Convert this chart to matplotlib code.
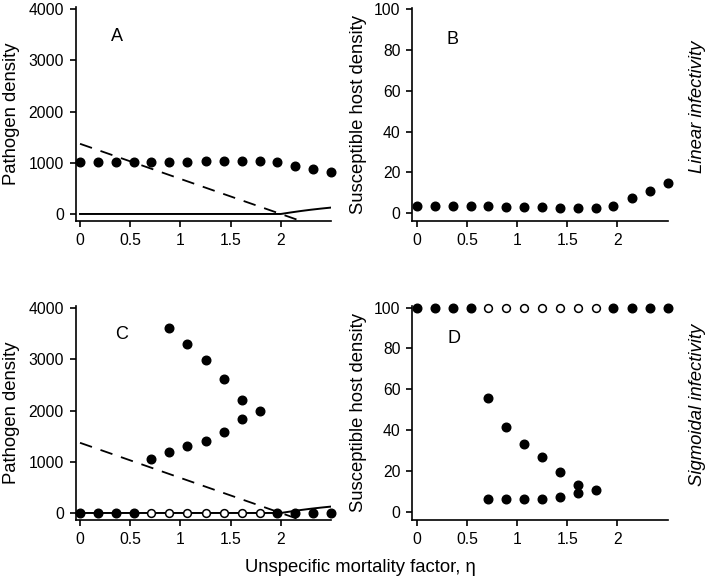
import matplotlib
matplotlib.use("Agg")
import matplotlib.pyplot as plt

plt.rcParams['font.family'] = ['Liberation Sans', 'DejaVu Sans']

# mortality factor grid
eta = [0, 0.18, 0.36, 0.54, 0.71, 0.89, 1.07, 1.25, 1.43, 1.61, 1.79, 1.96, 2.14, 2.32, 2.5]

# linear infectivity
path_lin = [1015, 1015, 1020, 1015, 1020, 1020, 1020, 1025, 1025, 1030, 1030, 1010, 945, 880, 815]
host_lin = [3.7, 3.6, 3.5, 3.4, 3.3, 3.1, 3.0, 2.9, 2.8, 2.6, 2.5, 3.6, 7.3, 10.9, 14.6]

# sigmoidal infectivity: trivial state (filled = stable, open = unstable)
stable_idx = [0, 1, 2, 3, 11, 12, 13, 14]
unstable_idx = [4, 5, 6, 7, 8, 9, 10]
path_triv = 0
host_triv = 100

# sigmoidal infectivity: non-trivial branches
eta_path_hi = [0.89, 1.07, 1.25, 1.43, 1.61, 1.79]
path_hi = [3620, 3300, 2980, 2610, 2210, 2000]
eta_path_lo = [0.71, 0.89, 1.07, 1.25, 1.43, 1.61]
path_lo = [1050, 1200, 1305, 1410, 1590, 1840]
eta_host_hi = [0.71, 0.89, 1.07, 1.25, 1.43, 1.61]
host_hi = [56, 41.8, 33.3, 27, 19.7, 13.5]
eta_host_lo = [0.71, 0.89, 1.07, 1.25, 1.43, 1.61, 1.79]
host_lo = [6.3, 6.3, 6.3, 6.7, 7.5, 9.3, 11]

# threshold curves in pathogen panels
eta_dash = [0, 2.2]
dash_y = [1370, -137]
eta_solid = [0, 2.0, 2.1, 2.2, 2.3, 2.4, 2.5]
solid_y = [0, 0, 30, 58, 83, 105, 125]

W, H = 713, 584
fig = plt.figure(figsize=(W / 100, H / 100), dpi=100)


def axes_px(left, top, right, bottom):
    return fig.add_axes([left / W, 1 - bottom / H, (right - left) / W, (bottom - top) / H])


axA = axes_px(75.7, 7, 331, 221)
axB = axes_px(412.3, 7.9, 667.7, 221)
axC = axes_px(75.7, 306, 331, 520)
axD = axes_px(412.3, 306.5, 667.7, 520)

dot = dict(marker='o', ms=6.2, color='black', ls='none', clip_on=False, zorder=3)
opn = dict(marker='o', ms=5.6, mfc='white', mec='black', mew=1.1, ls='none', clip_on=False, zorder=3)

for ax in (axA, axB, axC, axD):
    ax.set_xlim(-0.043, 2.5)
    ax.spines['top'].set_visible(False)
    ax.spines['right'].set_visible(False)
    for s in ('left', 'bottom'):
        ax.spines[s].set_linewidth(1.2)
    ax.set_xticks([0, 0.5, 1, 1.5, 2])
    ax.set_xticklabels(['0', '0.5', '1', '1.5', '2'])
    ax.tick_params(length=4, width=1.2, labelsize=11.3, pad=4.5)

for ax in (axA, axC):
    ax.set_ylim(-137, 4040)
    ax.set_yticks([0, 1000, 2000, 3000, 4000])
    ax.plot(eta_dash, dash_y, color='black', lw=1.3, dashes=(7, 5))
    ax.plot(eta_solid, solid_y, color='black', lw=1.4)
for ax in (axB, axD):
    ax.set_ylim(-3.8, 100.5)
    ax.set_yticks([0, 20, 40, 60, 80, 100])

# A
axA.plot(eta, path_lin, **dot)
axA.text(0.37, 3470, 'A', fontsize=13, ha='center', va='center')
# B
axB.plot(eta, host_lin, **dot)
axB.text(0.36, 85, 'B', fontsize=13, ha='center', va='center')
# C
axC.plot([eta[i] for i in stable_idx], [path_triv] * len(stable_idx), **dot)
axC.plot([eta[i] for i in unstable_idx], [path_triv] * len(unstable_idx), **opn)
axC.plot(eta_path_hi, path_hi, **dot)
axC.plot(eta_path_lo, path_lo, **dot)
axC.text(0.415, 3490, 'C', fontsize=13, ha='center', va='center')
# D
axD.plot([eta[i] for i in stable_idx], [host_triv] * len(stable_idx), **dot)
axD.plot([eta[i] for i in unstable_idx], [host_triv] * len(unstable_idx), **opn)
axD.plot(eta_host_hi, host_hi, **dot)
axD.plot(eta_host_lo, host_lo, **dot)
axD.text(0.37, 85, 'D', fontsize=13, ha='center', va='center')

lab = dict(fontsize=13.3, ha='center', va='center', rotation=90)
fig.text(12 / W, 1 - 114 / H, 'Pathogen density', **lab)
fig.text(12 / W, 1 - 413 / H, 'Pathogen density', **lab)
fig.text(358 / W, 1 - 114 / H, 'Susceptible host density', **lab)
fig.text(358 / W, 1 - 413 / H, 'Susceptible host density', **lab)
fig.text(698 / W, 1 - 107 / H, 'Linear infectivity', style='italic', **lab)
fig.text(698 / W, 1 - 405 / H, 'Sigmoidal infectivity', style='italic', **lab)
fig.text(360 / W, 1 - 568 / H, 'Unspecific mortality factor, η', fontsize=13.3,
         ha='center', va='center')

fig.savefig('out.png', dpi=100)
